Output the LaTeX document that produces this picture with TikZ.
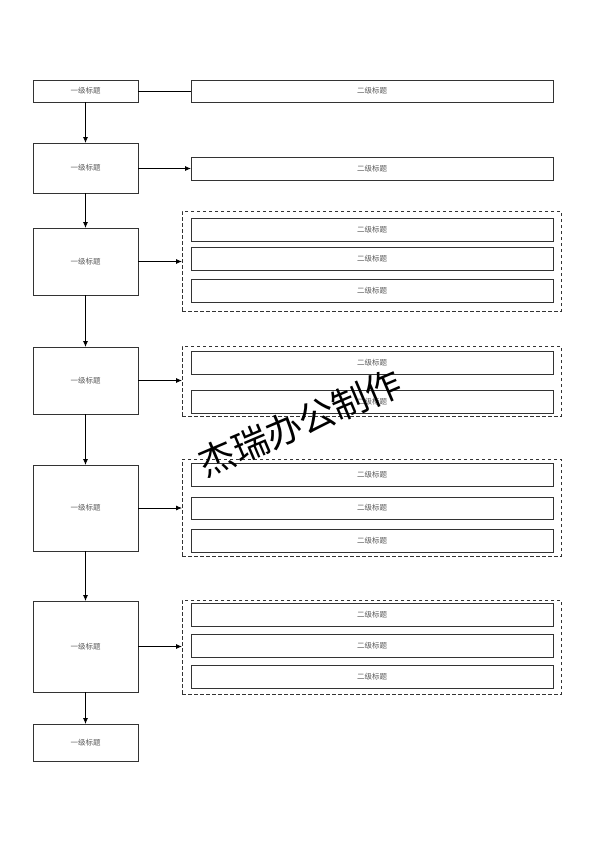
\documentclass[tikz,border=0pt]{standalone}
\usepackage{fontspec}
\newfontfamily\cjk{Noto Sans CJK SC}
\usetikzlibrary{arrows.meta}
\begin{document}
\begin{tikzpicture}[x=1pt,y=-1pt,
  lvone/.style={draw=black!80,line width=0.8pt,anchor=north west,inner sep=0pt,outer sep=0pt,minimum width=105pt,font=\cjk\fontsize{7.5}{8}\selectfont,text=black!65},
  lvtwo/.style={draw=black!80,line width=0.8pt,anchor=north west,inner sep=0pt,outer sep=0pt,minimum width=362pt,minimum height=23pt,font=\cjk\fontsize{7.5}{8}\selectfont,text=black!65},
  grp/.style={draw=black!80,line width=0.8pt,dash pattern=on 3.5pt off 2.5pt,anchor=north west,inner sep=0pt,outer sep=0pt,minimum width=379pt},
  arr/.style={draw=black,line width=0.8pt,-{Latex[length=6pt,width=5pt]}},
  ln/.style={draw=black,line width=0.8pt}]
\useasboundingbox (0,0) rectangle (594,841);
% left column
\node[lvone,minimum height=22pt] (a1) at (33,80) {一级标题};
\node[lvone,minimum height=50pt] (a2) at (33,143) {一级标题};
\node[lvone,minimum height=67pt] (a3) at (33,228) {一级标题};
\node[lvone,minimum height=67pt] (a4) at (33,347) {一级标题};
\node[lvone,minimum height=86pt] (a5) at (33,465) {一级标题};
\node[lvone,minimum height=91pt] (a6) at (33,601) {一级标题};
\node[lvone,minimum height=37pt] (a7) at (33,724) {一级标题};
% groups
\node[grp,minimum height=100pt] (g3) at (182,211) {};
\node[grp,minimum height=70pt] (g4) at (182,346) {};
\node[grp,minimum height=97pt] (g5) at (182,459) {};
\node[grp,minimum height=94pt] (g6) at (182,600) {};
% right column
\node[lvtwo,minimum height=22pt] (b1) at (191,80) {二级标题};
\node[lvtwo] (b2) at (191,157) {二级标题};
\node[lvtwo] (b31) at (191,218) {二级标题};
\node[lvtwo] (b32) at (191,247) {二级标题};
\node[lvtwo] (b33) at (191,279) {二级标题};
\node[lvtwo] (b41) at (191,351) {二级标题};
\node[lvtwo] (b42) at (191,390) {二级标题};
\node[lvtwo] (b51) at (191,463) {二级标题};
\node[lvtwo,minimum height=22pt] (b52) at (191,497) {二级标题};
\node[lvtwo] (b53) at (191,529) {二级标题};
\node[lvtwo] (b61) at (191,603) {二级标题};
\node[lvtwo] (b62) at (191,634) {二级标题};
\node[lvtwo] (b63) at (191,665) {二级标题};
% vertical arrows
\draw[arr] (a1.south) -- (a2.north);
\draw[arr] (a2.south) -- (a3.north);
\draw[arr] (a3.south) -- (a4.north);
\draw[arr] (a4.south) -- (a5.north);
\draw[arr] (a5.south) -- (a6.north);
\draw[arr] (a6.south) -- (a7.north);
% horizontal connectors
\draw[ln] (a1.east) -- (b1.west);
\draw[arr] (a2.east |- b2.west) -- (b2.west);
\draw[arr] (a3.east) -- (a3.east -| g3.west);
\draw[arr] (a4.east) -- (a4.east -| g4.west);
\draw[arr] (a5.east) -- (a5.east -| g5.west);
\draw[arr] (a6.east) -- (a6.east -| g6.west);
% watermark
\node[font=\cjk\fontsize{36}{40}\selectfont,rotate=23,inner sep=0pt] (wm) at (300,423) {杰瑞办公制作};
\end{tikzpicture}
\end{document}
